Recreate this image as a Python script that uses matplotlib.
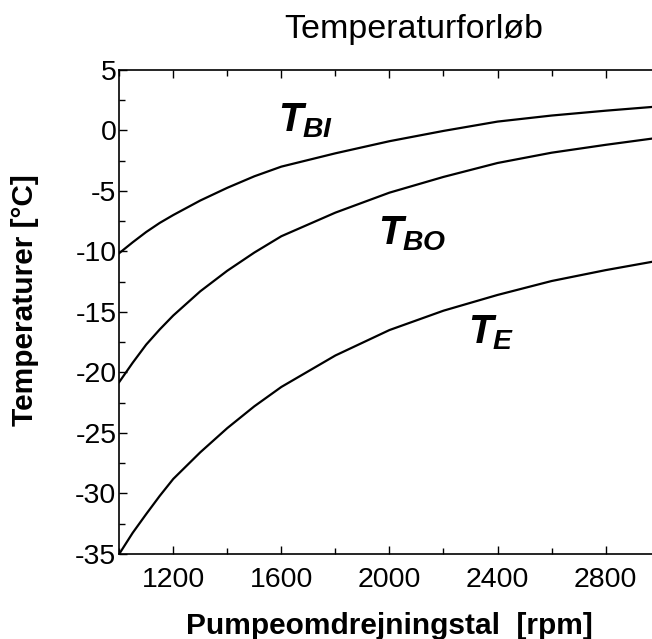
import matplotlib

matplotlib.use("Agg")
import matplotlib.pyplot as plt  # noqa: E402
from matplotlib.ticker import MultipleLocator  # noqa: E402

# values
rpm = [1000, 1050, 1100, 1150, 1200, 1300, 1400, 1500, 1600, 1800, 2000, 2200, 2400, 2600, 2800, 3000]
t_bi = [-10.15, -9.25, -8.4, -7.65, -7.0, -5.8, -4.75, -3.8, -3.0, -1.9, -0.9, -0.05, 0.72, 1.22, 1.62, 1.98]
t_bo = [-20.8, -19.2, -17.7, -16.45, -15.3, -13.3, -11.6, -10.1, -8.75, -6.8, -5.15, -3.85, -2.7, -1.85, -1.2, -0.6]
t_e = [-35.0, -33.25, -31.7, -30.2, -28.8, -26.6, -24.6, -22.8, -21.2, -18.6, -16.5, -14.9, -13.6, -12.45, -11.55, -10.75]

curve_labels = [r"$T_{BI}$", r"$T_{BO}$", r"$T_{E}$"]
label_pos = [(1587, -0.1), (1959, -9.45), (2292, -17.6)]

plt.rcParams.update({
    "font.family": ["Liberation Sans", "DejaVu Sans"],
    "mathtext.fontset": "custom",
    "mathtext.it": "Liberation Sans:italic:bold",
    "mathtext.rm": "Liberation Sans:bold",
})

fig = plt.figure(figsize=(6.52, 6.39), dpi=100)
ax = fig.add_axes([0.1828, 0.133, 0.829, 0.7578])

for series in (t_bi, t_bo, t_e):
    ax.plot(rpm, series, color="black", linewidth=1.6, solid_joinstyle="round")

for text, (x, y) in zip(curve_labels, label_pos):
    ax.text(x, y, text, fontsize=29, ha="left", va="baseline")

ax.set_xlim(1000, 3000)
ax.set_ylim(-35, 5)
ax.xaxis.set_minor_locator(MultipleLocator(200))
ax.yaxis.set_major_locator(MultipleLocator(5))
ax.yaxis.set_minor_locator(MultipleLocator(2.5))
ax.set_xticks([1200, 1600, 2000, 2400, 2800])
ax.tick_params(axis="both", which="both", direction="in", top=True, labelsize=20.5)
ax.tick_params(axis="x", which="major", length=6, width=1, pad=9)
ax.tick_params(axis="x", which="minor", length=4, width=1)
ax.tick_params(axis="y", which="major", length=6, width=1, pad=2)
ax.tick_params(axis="y", which="minor", length=4, width=1)
for spine in ax.spines.values():
    spine.set_linewidth(1.2)

ax.set_yticklabels([f"{int(v)}" for v in ax.get_yticks()])

ax.set_xlabel("Pumpeomdrejningstal  [rpm]", fontsize=21.5, fontweight="bold")
ax.xaxis.set_label_coords(0.5, -0.12)
ax.set_ylabel("Temperaturer [°C]", fontsize=21.5, fontweight="bold", va="center")
ax.yaxis.set_label_coords(-0.174, 0.525)

fig.text(0.635, 0.94, "Temperaturforløb", fontsize=24.5, ha="center", va="baseline")

fig.savefig("out.png", dpi=100)
plt.close(fig)
